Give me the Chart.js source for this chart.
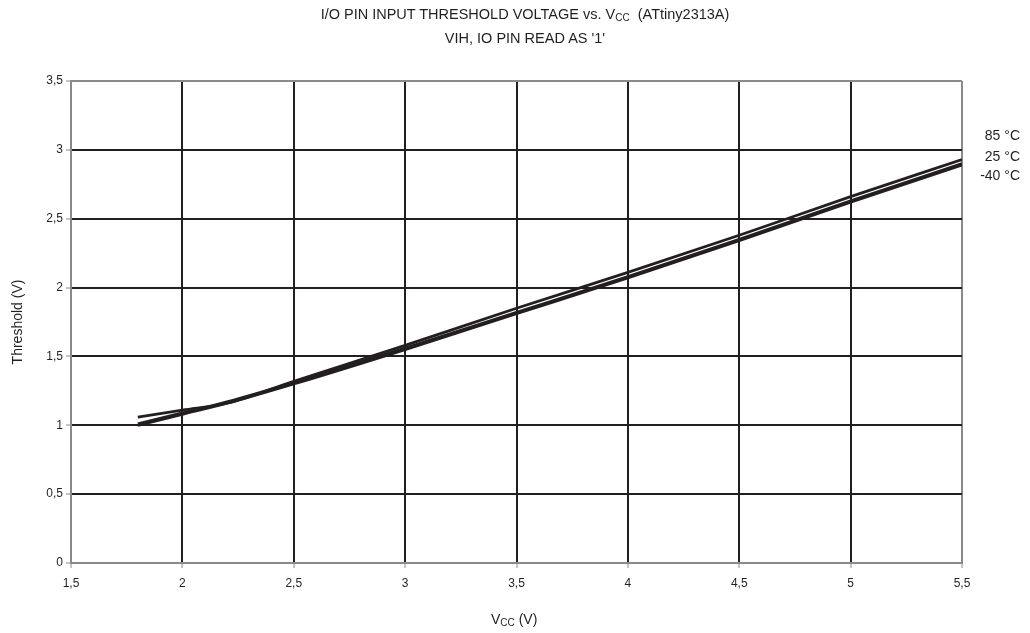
<!DOCTYPE html>
<html>
<head>
<meta charset="utf-8">
<script src="https://cdn.jsdelivr.net/npm/chart.js@4"></script>
<style>
    body { margin: 0; background: #fff; font-family: "Liberation Sans", Arial, sans-serif; color: #231f20; }
    .wrap { position: relative; width: 1030px; height: 633px; }
    canvas { position: absolute; left: 0; top: 0; }
    .txt { position: absolute; white-space: nowrap; }
    .title { left: 0; width: 1050px; text-align: center; font-size: 14.5px; }
    sub { font-size: 10px; vertical-align: -2px; line-height: 0; }
    .temp { right: 10px; font-size: 14px; text-align: right; }
</style>
</head>
<body>
<div class="wrap">
    <canvas id="thresholdChart" width="1030" height="633"></canvas>
    <div class="txt title" style="top:6px">I/O PIN INPUT THRESHOLD VOLTAGE vs. V<sub>CC</sub>&nbsp; (ATtiny2313A)</div>
    <div class="txt title" style="top:30px">VIH, IO PIN READ AS '1'</div>
    <div class="txt temp" style="top:127px">85 °C</div>
    <div class="txt temp" style="top:148px">25 °C</div>
    <div class="txt temp" style="top:167px">-40 °C</div>
    <div class="txt" style="left:491px; top:611px; font-size:14px">V<sub>CC</sub> (V)</div>
</div>
<script>
// DATA
const vcc = [1.8, 2.0, 2.2, 2.5, 3.0, 3.5, 4.0, 4.5, 5.0, 5.5];
const temp85 = [1.06, 1.11, 1.16, 1.32, 1.58, 1.85, 2.11, 2.38, 2.66, 2.93];
const temp25 = [1.01, 1.09, 1.17, 1.31, 1.56, 1.82, 2.08, 2.35, 2.63, 2.90];
const tempM40 = [1.00, 1.08, 1.16, 1.30, 1.55, 1.81, 2.07, 2.34, 2.62, 2.89];
const xTicks = [1.5, 2, 2.5, 3, 3.5, 4, 4.5, 5, 5.5];
const yTicks = [0, 0.5, 1, 1.5, 2, 2.5, 3, 3.5];

function toPoints(ys) {
    return vcc.map((x, i) => ({ x: x, y: ys[i] }));
}

function commaLabel(v) {
    return String(v).replace(".", ",");
}

const lineStyle = {
    borderColor: "#231f20",
    borderWidth: 2.8,
    pointRadius: 0,
    cubicInterpolationMode: "monotone",
    fill: false
};

const ctx = document.getElementById("thresholdChart").getContext("2d");
new Chart(ctx, {
    type: "line",
    data: {
        datasets: [
            { label: "85 °C", data: toPoints(temp85), ...lineStyle },
            { label: "25 °C", data: toPoints(temp25), ...lineStyle },
            { label: "-40 °C", data: toPoints(tempM40), ...lineStyle }
        ]
    },
    options: {
        responsive: false,
        animation: false,
        layout: { padding: { left: 0, top: 81, right: 68, bottom: 0 } },
        plugins: {
            legend: { display: false },
            tooltip: { enabled: false }
        },
        scales: {
            x: {
                type: "linear",
                min: 1.5,
                max: 5.5,
                afterBuildTicks: (scale) => { scale.ticks = xTicks.map(v => ({ value: v })); },
                afterFit: (scale) => { scale.height = 70; },
                grid: {
                    color: (c) => (c.tick && (c.tick.value === 1.5 || c.tick.value === 5.5)) ? "#8a8a8a" : "#231f20",
                    lineWidth: 2,
                    tickColor: "#8a8a8a",
                    tickLength: 5,
                    tickWidth: 1
                },
                border: { color: "#8a8a8a", width: 2 },
                ticks: {
                    color: "#231f20",
                    font: { family: "Liberation Sans", size: 12 },
                    padding: 8,
                    callback: (v) => commaLabel(v)
                }
            },
            y: {
                min: 0,
                max: 3.5,
                afterBuildTicks: (scale) => { scale.ticks = yTicks.map(v => ({ value: v })); },
                afterFit: (scale) => { scale.width = 71; },
                grid: {
                    color: (c) => (c.tick && (c.tick.value === 0 || c.tick.value === 3.5)) ? "#8a8a8a" : "#231f20",
                    lineWidth: 2,
                    tickColor: "#8a8a8a",
                    tickLength: 5,
                    tickWidth: 1
                },
                border: { color: "#8a8a8a", width: 2 },
                ticks: {
                    color: "#231f20",
                    font: { family: "Liberation Sans", size: 12 },
                    padding: 3,
                    callback: (v) => commaLabel(v)
                },
                title: {
                    display: true,
                    text: "Threshold (V)",
                    color: "#231f20",
                    font: { family: "Liberation Sans", size: 14 },
                    padding: { top: 10, bottom: 0 }
                }
            }
        }
    }
});
</script>
</body>
</html>
